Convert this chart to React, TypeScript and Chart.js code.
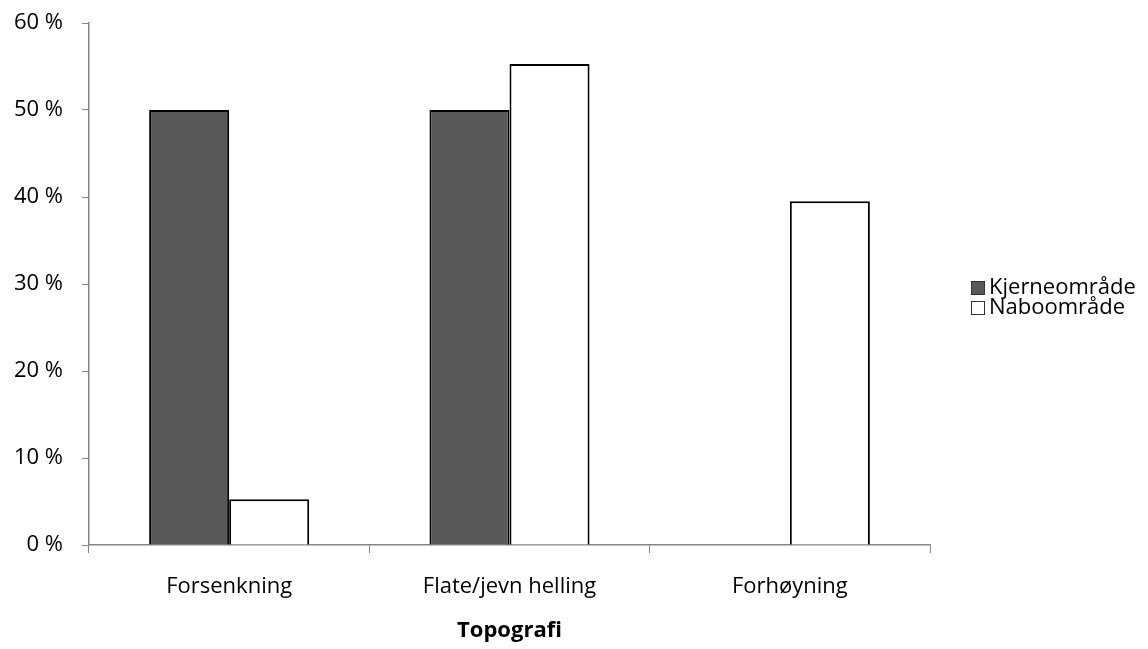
import React, { useEffect, useRef } from "react";
import { Chart, registerables } from "chart.js";

Chart.register(...registerables);

const categories = ["Forsenkning", "Flate/jevn helling", "Forhøyning"];
const seriesNames = ["Kjerneområde", "Naboområde"];
const kjerneValues = [50, 50, 0];
const naboValues = [5.25, 55.3, 39.5];
const yTicks = [0, 10, 20, 30, 40, 50, 60];

const FONT = "'Open Sans', sans-serif";
const FONT_SIZE = 22;
const TEXT = "#000000";
const AXIS = "#868686";

// Legend drawn at the right of the plot, one row per series
const sideLegend = {
  id: "sideLegend",
  afterDraw(chart: any) {
    const ctx = chart.ctx;
    const x = chart.chartArea.right + 41;
    const startY = 288;
    const rowGap = 20;
    ctx.save();
    ctx.font = `${FONT_SIZE}px ${FONT}`;
    ctx.textBaseline = "middle";
    ctx.textAlign = "left";
    chart.data.datasets.forEach((ds: any, i: number) => {
      const y = startY + i * rowGap;
      ctx.fillStyle = ds.backgroundColor;
      ctx.fillRect(x, y - 7, 14, 14);
      ctx.strokeStyle = "#333333";
      ctx.lineWidth = 1;
      ctx.strokeRect(x + 0.5, y - 6.5, 13, 13);
      ctx.fillStyle = TEXT;
      ctx.fillText(ds.label, x + 18, y);
    });
    ctx.restore();
  },
};

export default function App() {
  const canvasRef = useRef<HTMLCanvasElement | null>(null);

  useEffect(() => {
    if (!canvasRef.current) return;
    const chart = new Chart(canvasRef.current, {
      type: "bar",
      data: {
        labels: categories,
        datasets: [
          {
            label: seriesNames[0],
            data: kjerneValues,
            backgroundColor: "#595959",
            borderColor: "#000000",
            borderWidth: 2,
          },
          {
            label: seriesNames[1],
            data: naboValues,
            backgroundColor: "#ffffff",
            borderColor: "#000000",
            borderWidth: 2,
          },
        ],
      },
      options: {
        animation: false,
        responsive: true,
        maintainAspectRatio: false,
        layout: { padding: { top: 23, right: 218, bottom: 0, left: 0 } },
        datasets: { bar: { categoryPercentage: 0.571, barPercentage: 1 } },
        plugins: {
          legend: { display: false },
          tooltip: { enabled: false },
        },
        scales: {
          x: {
            grid: {
              display: true,
              drawOnChartArea: false,
              drawTicks: true,
              tickLength: 8,
              color: AXIS,
              offset: true,
            },
            border: { display: true, color: AXIS, width: 1.5 },
            ticks: {
              color: TEXT,
              font: { family: FONT, size: FONT_SIZE },
              padding: 21,
            },
            title: {
              display: true,
              text: "Topografi",
              color: TEXT,
              font: { family: FONT, size: FONT_SIZE, weight: "bold" },
              padding: { top: 14, bottom: 5 },
            },
            afterFit(scale: any) {
              scale.height = 104;
            },
          },
          y: {
            min: 0,
            max: 60,
            afterBuildTicks(scale: any) {
              scale.ticks = yTicks.map((v) => ({ value: v }));
            },
            grid: {
              display: true,
              drawOnChartArea: false,
              drawTicks: true,
              tickLength: 7,
              color: AXIS,
            },
            border: { display: true, color: AXIS, width: 1.5 },
            ticks: {
              color: TEXT,
              font: { family: FONT, size: FONT_SIZE },
              padding: 19,
              callback: (v: any) => `${v} %`,
            },
            afterFit(scale: any) {
              scale.width = 89;
              scale.paddingTop = 0;
              scale.paddingBottom = 0;
            },
          },
        },
      },
      plugins: [sideLegend],
    });
    return () => chart.destroy();
  }, []);

  return (
    <div style={{ position: "fixed", left: 0, top: 0, width: 1148, height: 649, background: "#ffffff" }}>
      <canvas ref={canvasRef} />
    </div>
  );
}
